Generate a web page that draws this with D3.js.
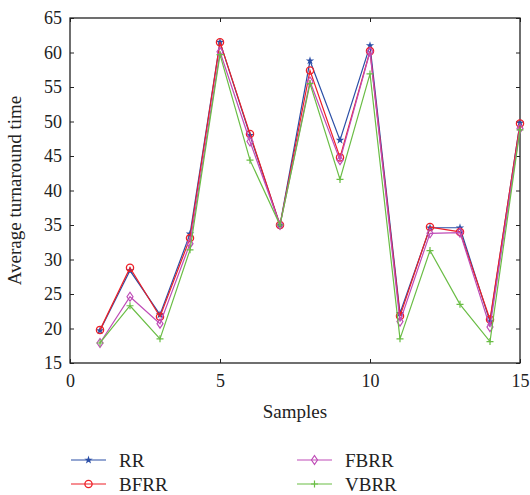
<!DOCTYPE html>
<html>
<head>
<meta charset="utf-8">
<script src="https://cdn.jsdelivr.net/npm/d3@7"></script>
<style>
  body { margin: 0; background: #fff; }
  svg text { font-family: "Liberation Serif", "DejaVu Serif", serif; fill: #222; }
</style>
</head>
<body>
<div id="chart"></div>
<script>
// data
const samples = d3.range(1, 16);
const rr   = [19.7, 28.4, 22.0, 33.7, 61.5, 48.0, 35.0, 58.8, 47.3, 61.0, 22.2, 34.6, 34.6, 21.0, 49.8];
const bfrr = [19.8, 28.8, 21.7, 33.1, 61.5, 48.2, 35.0, 57.4, 44.8, 60.2, 21.8, 34.7, 34.0, 21.3, 49.7];
const fbrr = [17.9, 24.6, 20.7, 32.3, 60.1, 47.1, 35.0, 55.8, 44.4, 60.1, 21.0, 33.8, 33.9, 20.2, 49.0];
const vbrr = [17.9, 23.3, 18.5, 31.4, 59.7, 44.4, 35.0, 55.5, 41.6, 56.9, 18.5, 31.3, 23.5, 18.1, 48.8];
const xTicks = [0, 5, 10, 15];
const yTicks = [15, 20, 25, 30, 35, 40, 45, 50, 55, 60, 65];

const series = [
  {name: "RR",   values: rr,   color: "#2a4ea6", marker: "star"},
  {name: "BFRR", values: bfrr, color: "#ee1f26", marker: "circle"},
  {name: "FBRR", values: fbrr, color: "#bf4cb7", marker: "diamond"},
  {name: "VBRR", values: vbrr, color: "#6abd45", marker: "plus"}
];

const fontFamily = '"Liberation Serif", "DejaVu Serif", serif';
const svgWidth = 530, svgHeight = 495;
const margin = {top: 18, right: 10, bottom: 132, left: 70};
const width = svgWidth - margin.left - margin.right,
      height = svgHeight - margin.top - margin.bottom;

const svg = d3.select("#chart").append("svg")
  .attr("width", svgWidth)
  .attr("height", svgHeight)
  .attr("font-family", fontFamily);

const g = svg.append("g")
  .attr("transform", "translate(" + margin.left + "," + margin.top + ")");

const x = d3.scaleLinear().domain([0, 15]).range([0, width]);
const y = d3.scaleLinear().domain([15, 65]).range([height, 0]);

// box with inward ticks on all sides
g.append("g").attr("transform", "translate(0," + height + ")")
  .call(d3.axisBottom(x).tickValues(xTicks).tickSize(-4).tickPadding(11))
  .attr("font-family", fontFamily)
  .call(ax => ax.select(".domain").remove())
  .call(ax => ax.selectAll("text").attr("font-size", 18).attr("dy", "0.71em"));
g.append("g")
  .call(d3.axisTop(x).tickValues(xTicks).tickSize(-4).tickFormat(""))
  .call(ax => ax.select(".domain").remove());
g.append("g")
  .call(d3.axisLeft(y).tickValues(yTicks).tickSize(-4).tickPadding(8))
  .attr("font-family", fontFamily)
  .call(ax => ax.select(".domain").remove())
  .call(ax => ax.selectAll("text").attr("font-size", 18));
g.append("g").attr("transform", "translate(" + width + ",0)")
  .call(d3.axisRight(y).tickValues(yTicks).tickSize(-4).tickFormat(""))
  .call(ax => ax.select(".domain").remove());

g.selectAll(".tick line").attr("stroke", "#222").attr("stroke-width", 1);

g.append("rect")
  .attr("width", width).attr("height", height)
  .attr("fill", "none").attr("stroke", "#222").attr("stroke-width", 1.3);

// axis titles
g.append("text")
  .attr("x", width / 2).attr("y", height + 55)
  .attr("text-anchor", "middle").attr("font-size", 19)
  .text("Samples");
g.append("text")
  .attr("transform", "translate(" + (-49) + "," + (height / 2) + ") rotate(-90)")
  .attr("text-anchor", "middle").attr("font-size", 19)
  .text("Average turnaround time");

function drawMarker(sel, s, px, py) {
  if (s.marker === "circle") {
    sel.append("circle").attr("cx", px).attr("cy", py).attr("r", 3.6)
      .attr("fill", "none").attr("stroke", s.color).attr("stroke-width", 1.3);
  } else if (s.marker === "diamond") {
    sel.append("path").attr("transform", "translate(" + px + "," + py + ")")
      .attr("d", "M0,-4.5L3,0L0,4.5L-3,0Z")
      .attr("fill", "none").attr("stroke", s.color).attr("stroke-width", 1.2);
  } else if (s.marker === "plus") {
    sel.append("path").attr("transform", "translate(" + px + "," + py + ")")
      .attr("d", "M-3.5,0H3.5M0,-3.5V3.5")
      .attr("stroke", s.color).attr("stroke-width", 1.2);
  } else {
    sel.append("path").attr("transform", "translate(" + px + "," + py + ")")
      .attr("d", d3.symbol().type(d3.symbolStar).size(22)())
      .attr("fill", s.color);
  }
}

const line = d3.line()
  .x((d, i) => x(samples[i]))
  .y(d => y(d));

series.forEach(s => {
  const sg = g.append("g");
  sg.append("path")
    .attr("d", line(s.values))
    .attr("fill", "none")
    .attr("stroke", s.color)
    .attr("stroke-width", 1.2);
  s.values.forEach((v, i) => drawMarker(sg, s, x(samples[i]), y(v)));
});

// legend
const legend = svg.append("g");
series.forEach((s, i) => {
  const col = i < 2 ? 0 : 1, row = i % 2;
  const lx = col === 0 ? 71 : 297, ly = 460 + row * 24;
  const lg = legend.append("g");
  lg.append("line").attr("x1", lx).attr("x2", lx + 35).attr("y1", ly).attr("y2", ly)
    .attr("stroke", s.color).attr("stroke-width", 1.2);
  drawMarker(lg, s, lx + 17.5, ly);
  lg.append("text").attr("x", lx + 48).attr("y", ly).attr("dy", "0.35em")
    .attr("font-size", 19).text(s.name);
});
</script>
</body>
</html>
